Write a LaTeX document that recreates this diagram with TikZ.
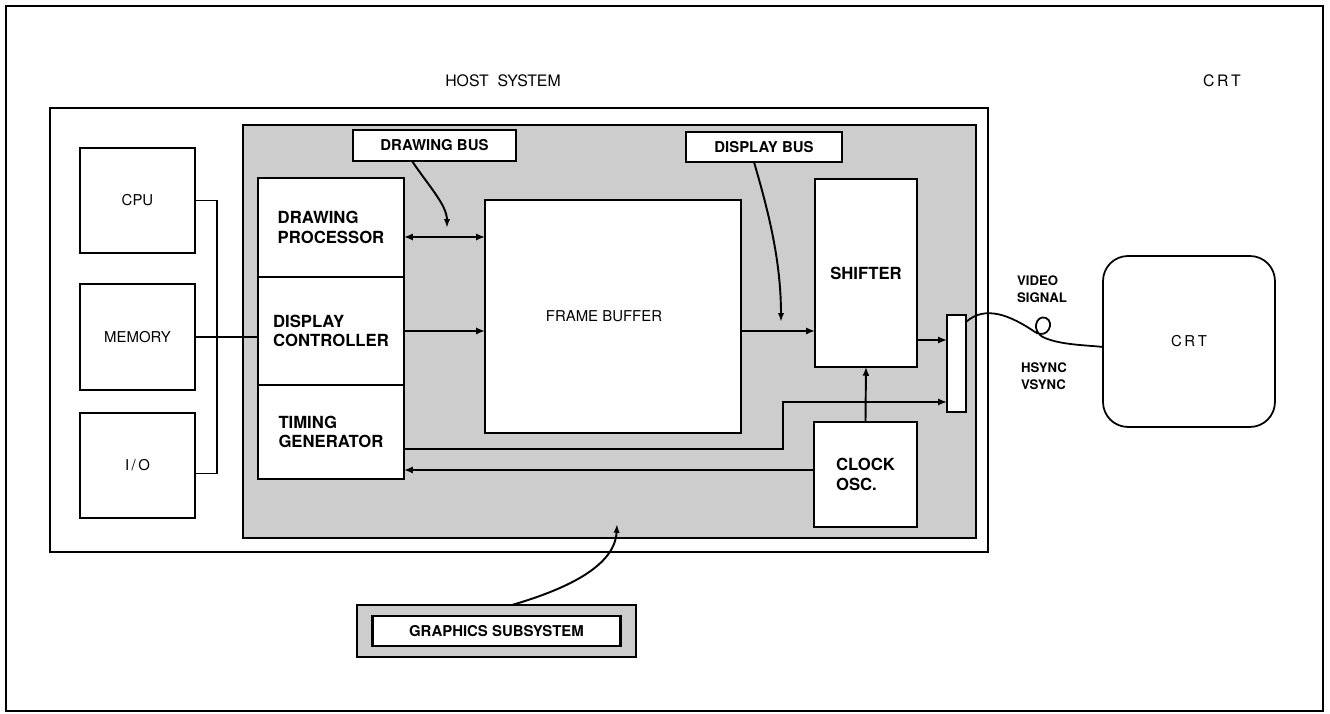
\documentclass[tikz,border=0pt]{standalone}
\usepackage{fontspec}
\setmainfont{TeX Gyre Heros}
\usetikzlibrary{arrows.meta,positioning}
\definecolor{screen}{RGB}{205,205,205}

\begin{document}
\begin{tikzpicture}[
    x=0.02cm, y=-0.02cm,
    hwbox/.style={rectangle, draw, line width=1pt, fill=white, inner sep=0pt, outer sep=0pt, anchor=north west, font=\fontsize{8.5}{10}\selectfont},
    unitbox/.style={hwbox, line width=1.4pt, align=left, font=\bfseries\fontsize{9.5}{11}\selectfont},
    buslabel/.style={hwbox, line width=1.4pt, font=\bfseries\fontsize{8.5}{10}\selectfont},
    hostline/.style={line width=1pt},
    bus/.style={line width=1.1pt, -{Latex[length=5pt,width=4pt]}},
    bothbus/.style={line width=1.1pt, {Latex[length=5pt,width=4pt]}-{Latex[length=5pt,width=4pt]}},
    pointer/.style={line width=1.1pt, -{Latex[length=5pt,width=3.5pt]}},
    cable/.style={line width=1pt}
]
    \useasboundingbox (0,0) rectangle (1330,714);
    \draw[line width=0.9pt] (6,6) rectangle (1323,711);

    % Titles
    \node[font=\fontsize{9}{11}\selectfont] (hosttitle) at (503,81) {HOST\ \ SYSTEM};
    \node[font=\fontsize{9}{11}\selectfont] (crttitle) at (1222,81) {C\hspace{1.5pt}R\hspace{1.5pt}T};

    % Host system and graphics subsystem
    \node[hwbox, minimum width=18.76cm, minimum height=8.88cm] (host) at (50,108) {};
    \node[hwbox, fill=screen, line width=1.4pt, minimum width=14.66cm, minimum height=8.26cm] (gfx) at (243,125) {};

    % Host units
    \node[hwbox, minimum width=2.3cm, minimum height=2.1cm] (cpu) at (80,148) {CPU};
    \node[hwbox, minimum width=2.3cm, minimum height=2.12cm, below=0.62cm of cpu] (mem) {MEMORY};
    \node[hwbox, minimum width=2.3cm, minimum height=2.1cm, below=0.46cm of mem] (io) {I\,/\,O};

    % Graphics units
    \node[unitbox, minimum width=2.92cm, minimum height=1.98cm] (dp) at (258,178) {DRAWING\\PROCESSOR};
    \node[unitbox, minimum width=2.92cm, minimum height=2.16cm, below=0cm of dp] (dc) {DISPLAY\\CONTROLLER};
    \node[unitbox, minimum width=2.92cm, minimum height=1.88cm, below=0cm of dc] (tg) {TIMING\\GENERATOR};
    \node[hwbox, line width=1.4pt, minimum width=5.12cm, minimum height=4.66cm] (fb) at (485,200) {FRAME BUFFER\hspace*{1.2em}};
    \node[unitbox, minimum width=2.04cm, minimum height=3.76cm] (sh) at (815,179) {SHIFTER};
    \node[unitbox, minimum width=2.06cm, minimum height=2.1cm] (clk) at (814,422) {CLOCK\\OSC.};
    \node[unitbox, minimum width=0.38cm, minimum height=1.94cm] (conn) at (947,315) {};

    % CRT
    \node[hwbox, rounded corners=0.5cm, minimum width=3.44cm, minimum height=3.42cm] (crt) at (1103,256) {C\hspace{1.5pt}R\hspace{1.5pt}T};
    \node[font=\bfseries\fontsize{7.5}{9.5}\selectfont, align=left] (vidlabel) at (1042,289) {VIDEO\\SIGNAL};
    \node[font=\bfseries\fontsize{7.5}{9.5}\selectfont, align=left] (synclabel) at (1044,376) {HSYNC\\VSYNC};

    % Bus labels
    \node[buslabel, minimum width=3.26cm, minimum height=0.62cm] (dbus) at (353,130) {DRAWING BUS};
    \node[buslabel, minimum width=3.12cm, minimum height=0.6cm] (pbus) at (686,132) {DISPLAY BUS};
    \node[hwbox, fill=screen, line width=1.4pt, minimum width=5.58cm, minimum height=1.04cm] (gsbox) at (357,605) {};
    \node[buslabel, minimum width=4.96cm, minimum height=0.6cm, anchor=center] (gsname) at (gsbox.center) {GRAPHICS SUBSYSTEM};

    % Host bus
    \draw[hostline] (cpu.east) -- ++(22,0) |- ([yshift=-0.16cm]io.east);
    \draw[hostline] (mem.east) -- (mem.east -| dc.west);

    % Drawing and display paths
    \coordinate (dpout) at ([yshift=-0.19cm]dp.east);
    \draw[bothbus] (dpout) -- (dpout -| fb.west);
    \draw[bus] (dc.east) -- (dc.east -| fb.west);
    \draw[bus] (fb.east |- dc.east) -- (sh.west |- dc.east);
    \coordinate (vidin) at ([yshift=0.47cm]conn.west);
    \draw[bus] (vidin -| sh.east) -- (vidin);
    \draw[bus] (clk.north) -- (sh.south);
    \coordinate (syncin) at ([yshift=-0.77cm]conn.west);
    \draw[bus] ([yshift=-0.34cm]tg.east) -- ++(379,0) |- (syncin);
    \coordinate (clkout) at ([yshift=0.09cm]clk.west);
    \draw[bus] (clkout) -- (clkout -| tg.east);

    % Video cable
    \coordinate (vidout) at ([yshift=0.83cm]conn.east);
    \coordinate (crtin) at ([yshift=-0.11cm]crt.west);
    \draw[cable] (vidout) .. controls (985,305) and (1010,315) .. (1035,332)
        .. controls (1048,340) and (1055,322) .. (1046,318)
        .. controls (1036,314) and (1030,332) .. (1045,338)
        .. controls (1062,345) and (1085,345) .. (crtin);

    % Callouts
    \coordinate (dbustip) at (447,228);
    \coordinate (pbustip) at (781,322);
    \coordinate (gstip) at (617,524);
    \draw[pointer] ([xshift=-0.45cm]dbus.south) .. controls (428,185) and (447,205) .. (dbustip);
    \draw[pointer] ([xshift=-0.2cm]pbus.south) .. controls (768,210) and (781,260) .. (pbustip);
    \draw[pointer] ([xshift=0.31cm]gsbox.north) .. controls (570,588) and (615,565) .. (gstip);
\end{tikzpicture}
\end{document}
